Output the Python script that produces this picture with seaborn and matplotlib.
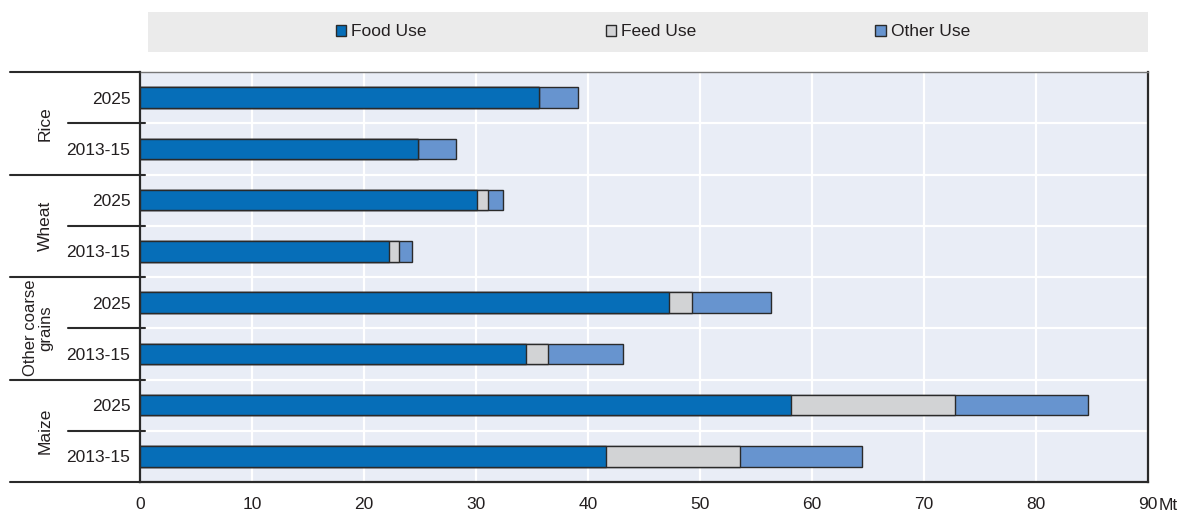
import matplotlib
matplotlib.use('Agg')
import matplotlib.pyplot as plt
import matplotlib.transforms as mtransforms
from matplotlib.patches import Rectangle, Patch
import numpy as np
import pandas as pd
import seaborn as sns

# ---- data ----
groups = ["Rice", "Wheat", "Other coarse\ngrains", "Maize"]
periods = ["2025", "2013-15"]
food = [35.6, 24.8, 30.1, 22.2, 47.2, 34.5, 58.1, 41.6]
feed = [0.0, 0.0, 1.0, 0.9, 2.1, 1.9, 14.7, 12.0]
other = [3.5, 3.4, 1.3, 1.2, 7.0, 6.7, 11.8, 10.9]
series_names = ["Food Use", "Feed Use", "Other Use"]
xticks = [0, 10, 20, 30, 40, 50, 60, 70, 80, 90]
unit = "Mt"

# ---- style ----
sns.set_theme(style="white")
plt.rcParams['font.family'] = ['Liberation Sans', 'DejaVu Sans']
FS = 12.5
plt.rcParams['font.size'] = FS
TXT = '#231f20'
C_FOOD = '#066eb8'
C_FEED = '#d2d3d5'
C_OTHER = '#6794cf'
EDGE = '#2a2a2a'

rows = [f"{g}|{p}" for g in groups for p in periods]
df = pd.DataFrame({"row": rows, "food": food, "feed": feed, "other": other})
df["cum_feed"] = df["food"] + df["feed"]
df["cum_other"] = df["cum_feed"] + df["other"]

fig = plt.figure(figsize=(11.82, 5.16), dpi=100)
ax = fig.add_axes([140/1182, 1-482/516, 1008/1182, 410/516])
ax.set_facecolor('#e9edf6')

for col, c in [("cum_other", C_OTHER), ("cum_feed", C_FEED), ("food", C_FOOD)]:
    sns.barplot(data=df, y="row", x=col, orient='h', color=c, saturation=1,
                width=0.4, edgecolor=EDGE, linewidth=1.0, ax=ax, zorder=3)

ax.set_xlim(0, 90)
ax.set_ylim(7.5, -0.5)
ax.set_xlabel("")
ax.set_ylabel("")
ax.set_xticks(xticks)
ax.set_xticklabels([str(t) for t in xticks], color=TXT, fontsize=FS)
ax.set_yticks(range(len(rows)))
ax.set_yticklabels([r.split("|")[1] for r in rows], color=TXT, fontsize=FS)
ax.set_yticks(np.arange(0.5, len(rows) - 1, 1), minor=True)
ax.tick_params(axis='y', which='both', length=0, pad=7)
ax.tick_params(axis='x', direction='in', length=5, width=1.2, color=EDGE, pad=11)
ax.set_axisbelow(True)
ax.xaxis.grid(True, color='white', lw=1.6, zorder=0)
ax.yaxis.grid(True, which='minor', color='white', lw=1.6, zorder=0)
ax.yaxis.grid(False, which='major')

for s in ['left', 'right', 'bottom']:
    ax.spines[s].set_color(EDGE)
    ax.spines[s].set_linewidth(1.6)
ax.spines['top'].set_color('#777777')
ax.spines['top'].set_linewidth(1.0)

# separator lines outside the axes
trans = mtransforms.blended_transform_factory(ax.transAxes, ax.transData)
n_per = len(periods)
for i in range(len(groups) + 1):
    y = i * n_per - 0.5
    ax.plot([-130/1008, 5/1008 if 0 < i < len(groups) else 0], [y, y], transform=trans,
            color=EDGE, lw=1.5, clip_on=False, zorder=5)
for i in range(len(groups)):
    y = i * n_per + 0.5
    ax.plot([-72/1008, 5/1008], [y, y], transform=trans,
            color=EDGE, lw=1.5, clip_on=False, zorder=5)
    two = "\n" in groups[i]
    ax.text(-95/1008 if not two else -102/1008, i * n_per + 0.5, groups[i],
            transform=trans, rotation=90, ha='center', va='center',
            color=TXT, fontsize=FS if not two else FS - 0.5, linespacing=1.05)

# unit label
fig.text(1159/1182, 1-505/516, unit, ha='left', va='center', color=TXT, fontsize=FS)

# legend band
fig.patches.append(Rectangle((148/1182, 1-52/516), 1000/1182, 40/516,
                             transform=fig.transFigure, facecolor='#ebebeb',
                             edgecolor='none', zorder=0))
handles = [Patch(facecolor=c, edgecolor=EDGE, lw=1) for c in [C_FOOD, C_FEED, C_OTHER]]
leg = fig.legend(handles, series_names, ncol=3, loc='center',
                 bbox_to_anchor=(653/1182, 1-32/516), frameon=False,
                 handlelength=0.6, handleheight=0.6, handletextpad=0.3,
                 columnspacing=10.3, fontsize=FS)
for t in leg.get_texts():
    t.set_color(TXT)

fig.savefig("out.png", dpi=100)
